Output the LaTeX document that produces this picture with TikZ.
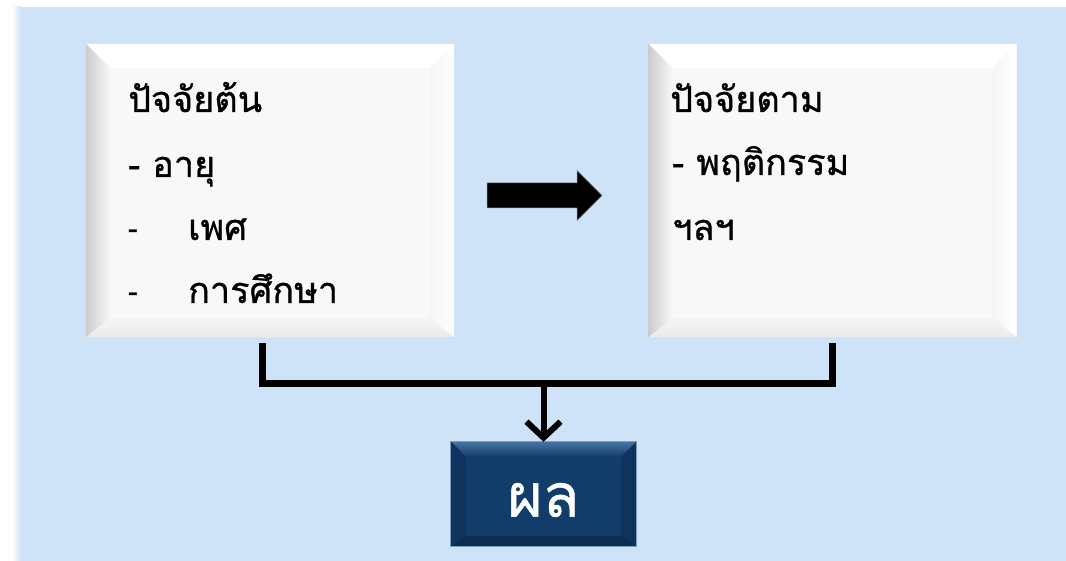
\documentclass[tikz,border=0pt]{standalone}
\usepackage{fontspec}
\newfontfamily\thaifont[Script=Thai,FakeBold=0.8]{Loma}
\usetikzlibrary{calc,arrows.meta}
\definecolor{bgblue}{RGB}{207,227,248}
\definecolor{boxface}{RGB}{248,248,248}
\definecolor{resface}{RGB}{18,60,105}
\definecolor{restop}{RGB}{70,116,162}
\definecolor{resside}{RGB}{14,52,94}
\tikzset{
  panel/.style={draw=none, fill=boxface, minimum width=368pt, minimum height=293pt, inner sep=0pt},
  result/.style={draw=none, fill=resface, minimum width=185pt, minimum height=104pt, inner sep=0pt},
  txt/.style={anchor=base west, inner sep=0pt, font=\thaifont\fontsize{36}{40}\selectfont},
  restxt/.style={inner sep=0pt, text=white, font=\thaifont\fontsize{60}{64}\selectfont},
  bracket/.style={line width=7pt, line cap=butt, line join=miter},
  downarrow/.style={line width=6pt, -{Straight Barb[length=16pt, width=34pt]}},
}
\newcommand\smalldash{\raisebox{2pt}{\fontsize{28}{30}\selectfont -}}
\begin{document}
\begin{tikzpicture}[x=1pt,y=-1pt]
\useasboundingbox (0,0) rectangle (1066,561);
\fill[white] (0,0) rectangle (1066,561);
\fill[bgblue] (12,7) rectangle (1066,561);
\shade[left color=white, right color=bgblue] (12,7) rectangle (21,561);
% panels
\node[panel] (L) at (270,190.5) {};
\node[panel] (R) at (832.5,190.5) {};
\node[result] (E) at (543.5,494) {};
% bevels of panels
\foreach \n in {L,R}{
  \fill[white] (\n.north west) -- (\n.north east) -- ($(\n.north east)+(-24,24)$) -- ($(\n.north west)+(24,24)$) -- cycle;
  \shade[left color=white!96!black, right color=white] (\n.north east) -- (\n.south east) -- ($(\n.south east)+(-24,-19)$) -- ($(\n.north east)+(-24,24)$) -- cycle;
  \shade[top color=white!96!black, bottom color=white!92!black] (\n.south west) -- (\n.south east) -- ($(\n.south east)+(-24,-19)$) -- ($(\n.south west)+(24,-19)$) -- cycle;
  \shade[left color=white!80!black, right color=white!97!black] (\n.north west) -- (\n.south west) -- ($(\n.south west)+(24,-19)$) -- ($(\n.north west)+(24,24)$) -- cycle;
}
% bevel of result
\shade[top color=restop, bottom color=resface] (E.north west) -- (E.north east) -- ($(E.north east)+(-15,15)$) -- ($(E.north west)+(15,15)$) -- cycle;
\fill[resside] (E.north west) -- (E.south west) -- ($(E.south west)+(15,-10)$) -- ($(E.north west)+(15,15)$) -- cycle;
\fill[resside] (E.north east) -- (E.south east) -- ($(E.south east)+(-15,-10)$) -- ($(E.north east)+(-15,15)$) -- cycle;
\fill[resside!85!black] (E.south west) -- (E.south east) -- ($(E.south east)+(-15,-10)$) -- ($(E.south west)+(15,-10)$) -- cycle;
\draw[restop!70!white, line width=0.8pt] (E.north west) rectangle (E.south east);
% texts
\node[txt] (t1) at (128,112) {ปัจจัยต้น};
\node[txt] (t2) at (128,177) {- อายุ};
\node[txt] (t3) at (128,240) {\smalldash};
\node[txt] (t4) at (188,240) {เพศ};
\node[txt] (t5) at (128,303) {\smalldash};
\node[txt] (t6) at (188,303) {การศึกษา};
\node[txt] (u1) at (670,112) {ปัจจัยตาม};
\node[txt] (u2) at (672,175) {- พฤติกรรม};
\node[txt] (u3) at (672,240) {ฯลฯ};
\node[restxt] (res) at (543.5,500) {ผล};
% block arrow
\coordinate (A) at (487,195.5);
\filldraw[fill=black, draw=gray, line width=0.5pt] (A) ++(0,-12.5) -- ++(90,0) -- ++(0,-12.5) -- ++(25,25) -- ++(-25,25) -- ++(0,-12.5) -- ++(-90,0) -- cycle;
% connectors
\coordinate (lb) at ($(L.south)+(-8,6)$);
\coordinate (rb) at ($(R.south)+(0,6)$);
\coordinate (h) at ($(lb)+(0,40)$);
\draw[bracket] (lb) -- (h) -| (rb);
\coordinate (m) at (E.north |- h);
\draw[downarrow] (m) -- (E.north);
\end{tikzpicture}
\end{document}
